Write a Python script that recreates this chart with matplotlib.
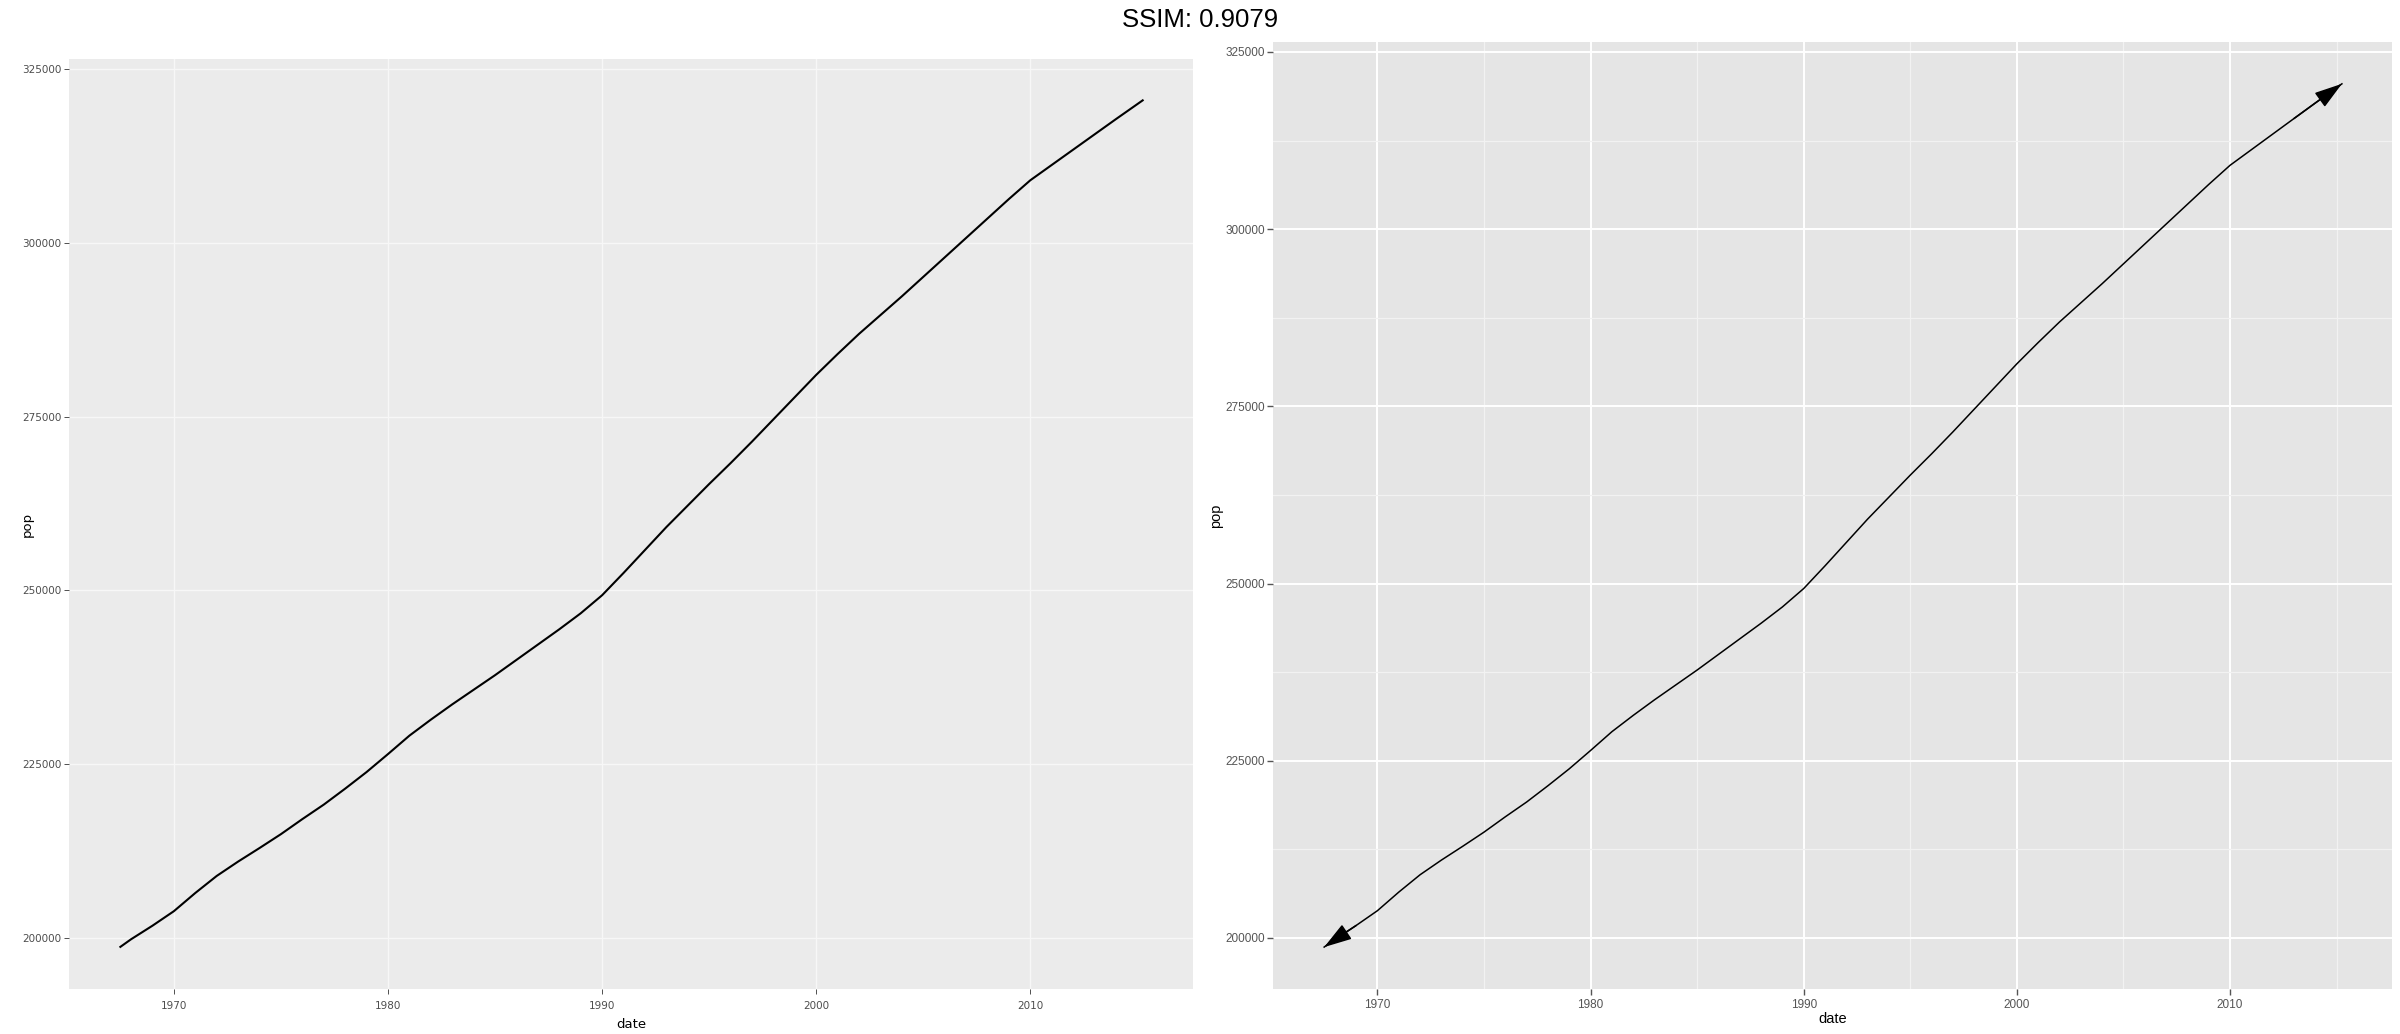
import matplotlib.pyplot as plt
from matplotlib.ticker import MultipleLocator, FixedLocator

# US population (thousands), read off the chart roughly once a year
years = [1967.5, 1968, 1969, 1970, 1971, 1972, 1973, 1974, 1975, 1976,
         1977, 1978, 1979, 1980, 1981, 1982, 1983, 1984, 1985, 1986,
         1987, 1988, 1989, 1990, 1991, 1992, 1993, 1994, 1995, 1996,
         1997, 1998, 1999, 2000, 2001, 2002, 2003, 2004, 2005, 2006,
         2007, 2008, 2009, 2010, 2011, 2012, 2013, 2014, 2015.25]
pop = [198712, 199808, 201760, 203849, 206466, 208917, 210985, 212932, 214931, 217095,
       219179, 221477, 223865, 226451, 229100, 231400, 233600, 235700, 237800, 240000,
       242200, 244400, 246700, 249300, 252500, 255800, 259100, 262200, 265300, 268300,
       271400, 274600, 277800, 281000, 284000, 286900, 289600, 292300, 295100, 297900,
       300700, 303500, 306300, 309000, 311200, 313400, 315600, 317800, 320500]

xticks = [1970, 1980, 1990, 2000, 2010]
yticks = [200000, 225000, 250000, 275000, 300000, 325000]

fig = plt.figure(figsize=(24, 10.34), dpi=100)
fig.text(0.5, 0.9807, 'SSIM: 0.9079', ha='center', va='center',
         fontsize=18.5, family='Liberation Sans')

# ---- left panel: ggplot2 look ----
ax1 = fig.add_axes([69 / 2400, 45 / 1034, 1124 / 2400, 930 / 1034])
ax1.set_facecolor('#EBEBEB')
ax1.plot(years, pop, color='black', lw=1.5)
ax1.set_xlim(1965.1, 2017.6)
ax1.set_ylim(192650, 326450)
ax1.xaxis.set_major_locator(FixedLocator(xticks))
ax1.yaxis.set_major_locator(FixedLocator(yticks))
ax1.set_xticklabels([str(t) for t in xticks])
ax1.set_yticklabels([str(t) for t in yticks])
for s in ax1.spines.values():
    s.set_visible(False)
ax1.set_axisbelow(True)
ax1.grid(True, color='#F7F7F7', lw=1.0)
ax1.tick_params(length=3.5, width=0.6, color='#333333', labelcolor='#4D4D4D',
                labelsize=7.5)
ax1.tick_params(axis='x', pad=5)
ax1.tick_params(axis='y', pad=2)
ax1.set_xlabel('date', fontsize=9.5)
ax1.set_ylabel('pop', fontsize=9.5)
ax1.xaxis.label.set_verticalalignment('center')
ax1.yaxis.label.set_verticalalignment('center')
ax1.xaxis.set_label_coords(0.5, -0.0387)
ax1.yaxis.set_label_coords(-0.0374, 0.5)

# ---- right panel: matplotlib ggplot style with arrows ----
ax2 = fig.add_axes([1273 / 2400, 45 / 1034, 1119 / 2400, 947 / 1034])
ax2.set_facecolor('#E5E5E5')
ax2.plot(years, pop, color='black', lw=1.1)
ax2.set_xlim(1965.1, 2017.6)
ax2.set_ylim(192800, 326400)
ax2.xaxis.set_major_locator(FixedLocator(xticks))
ax2.yaxis.set_major_locator(FixedLocator(yticks))
ax2.xaxis.set_minor_locator(MultipleLocator(5))
ax2.yaxis.set_minor_locator(MultipleLocator(12500))
ax2.set_xticklabels([str(t) for t in xticks], family='Liberation Sans')
ax2.set_yticklabels([str(t) for t in yticks], family='Liberation Sans')
for s in ax2.spines.values():
    s.set_visible(False)
ax2.set_axisbelow(True)
ax2.grid(True, which='major', color='white', lw=1.4)
ax2.grid(True, which='minor', color='#F2F2F2', lw=0.9)
ax2.tick_params(which='major', length=4, width=1, color='#555555',
                labelcolor='#555555', labelsize=8.5)
ax2.tick_params(which='minor', length=0)
ax2.tick_params(axis='x', pad=3.5)
ax2.tick_params(axis='y', pad=2)
ax2.set_xlabel('date', fontsize=10.5, family='Liberation Sans')
ax2.set_ylabel('pop', fontsize=10.5, family='Liberation Sans')
ax2.xaxis.label.set_verticalalignment('center')
ax2.yaxis.label.set_verticalalignment('center')
ax2.xaxis.set_label_coords(0.5, -0.0317)
ax2.yaxis.set_label_coords(-0.0509, 0.5)

head = '-|>,head_length=0.8,head_width=0.25'
ax2.annotate('', xy=(years[0], pop[0]), xytext=(years[2], pop[2]),
             arrowprops=dict(arrowstyle=head, color='black', lw=1.1,
                             mutation_scale=21.6, shrinkA=0, shrinkB=0))
ax2.annotate('', xy=(years[-1], pop[-1]), xytext=(years[-3], pop[-3]),
             arrowprops=dict(arrowstyle=head, color='black', lw=1.1,
                             mutation_scale=21.6, shrinkA=0, shrinkB=0))

fig.savefig('out.png', dpi=100)
